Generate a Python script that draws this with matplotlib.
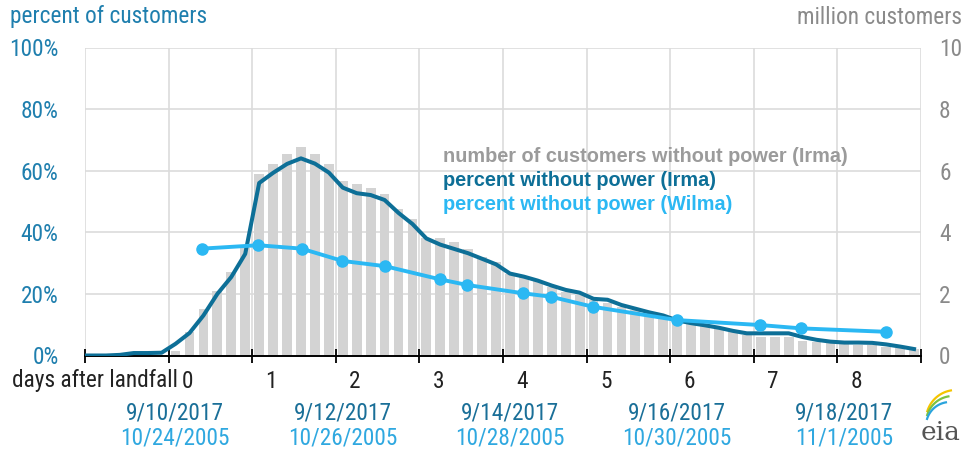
import numpy as np
import matplotlib
matplotlib.use("Agg")
import matplotlib.pyplot as plt
from matplotlib import font_manager as fm
from matplotlib.transforms import blended_transform_factory
from matplotlib.lines import Line2D

# ---------------- data ----------------
# x axis: days (grid line every day); bars are 4-hour periods
bar_times = list(np.arange(1, 10, 1 / 6) + 1 / 12)
irma_customers_mn = [
    0.15, 0.75, 1.50, 2.10, 2.70, 3.50,
    5.88, 6.21, 6.54, 6.76, 6.54, 6.22,
    5.68, 5.56, 5.45, 5.23, 4.76, 4.42,
    3.83, 3.80, 3.69, 3.46, 3.20, 3.03,
    2.65, 2.56, 2.42, 2.23, 2.05, 1.96,
    1.80, 1.69, 1.56, 1.48, 1.37, 1.26,
    1.10, 1.03, 0.95, 0.88, 0.77, 0.67,
    0.61, 0.61, 0.59, 0.48, 0.45, 0.40,
    0.37, 0.34, 0.34, 0.29, 0.23, 0.20,
]

irma_line_times = [0.0] + list(np.arange(0, 10, 1 / 6) + 1 / 12)
irma_pct = [
    0.0,
    0.0, 0.0, 0.2, 0.8, 0.8, 0.9,
    3.8, 7.3, 13.0, 20.0, 25.5, 33.0,
    56.0, 59.3, 62.2, 64.0, 62.3, 59.4,
    54.5, 52.7, 52.1, 50.5, 46.3, 42.7,
    38.0, 36.0, 34.6, 33.2, 31.4, 29.6,
    26.6, 25.6, 24.3, 22.7, 21.3, 20.4,
    18.4, 18.1, 16.4, 15.2, 14.0, 13.0,
    11.4, 10.5, 9.8, 9.0, 8.0, 7.2,
    7.2, 7.2, 7.2, 6.0, 5.1, 4.5,
    4.2, 4.2, 4.1, 3.6, 2.9, 2.1,
]

wilma_times = [1.40, 2.07, 2.59, 3.08, 3.59, 4.25, 4.57, 5.24, 5.57, 6.08, 7.08, 8.07, 8.57, 9.58]
wilma_pct = [34.7, 35.8, 34.7, 30.7, 29.0, 24.7, 22.9, 20.2, 19.1, 15.8, 11.5, 9.9, 8.8, 7.7]

landfall_offset = 1.23
day_labels = ["0", "1", "2", "3", "4", "5", "6", "7", "8"]
date_pos = [1.08, 3.08, 5.08, 7.08, 9.08]
dates_2017 = ["9/10/2017", "9/12/2017", "9/14/2017", "9/16/2017", "9/18/2017"]
dates_2005 = ["10/24/2005", "10/26/2005", "10/28/2005", "10/30/2005", "11/1/2005"]

pct_ticks = [0, 20, 40, 60, 80, 100]
mn_ticks = [0, 2, 4, 6, 8, 10]

# ---------------- style ----------------
def pick(fams):
    for f in fams:
        try:
            fm.findfont(fm.FontProperties(family=f), fallback_to_default=False)
            return f
        except Exception:
            pass
    return "DejaVu Sans"

NARROW = pick(["Liberation Sans Narrow", "Arial Narrow", "Roboto Condensed"])
scale = 1.0
if NARROW == "DejaVu Sans":
    NARROW = pick(["Liberation Sans", "Arial"])
    scale = 0.82
BOLD = pick(["Liberation Sans", "Arial"])
FS = 16.8 * scale

C_DARK = "#0d6f97"
C_LIGHT = "#2bb8f3"
C_BAR = "#d3d3d3"
C_AXIS_L = "#1f7fae"
C_GRAY = "#8a8a8a"
C_GRID = "#dcdcdc"

W, H = 968, 455
fig = plt.figure(figsize=(W / 100, H / 100), dpi=100)
ax_left, ax_right, ax_bot, ax_top = 85 / W, 921 / W, 1 - 355.5 / H, 1 - 47.5 / H
ax2 = fig.add_axes([ax_left, ax_bot, ax_right - ax_left, ax_top - ax_bot])  # back: bars (million)
ax = fig.add_axes(ax2.get_position(), sharex=ax2)                         # front: lines (%)
ax.patch.set_visible(False)

# bars
ax2.bar(bar_times, irma_customers_mn, width=0.118, color=C_BAR, zorder=2)
ax2.set_ylim(0, 10)
ax2.set_yticks(mn_ticks)
ax2.yaxis.tick_right()
ax2.tick_params(axis="y", length=0, pad=13, labelsize=FS, labelcolor=C_GRAY)
for lab in ax2.get_yticklabels():
    lab.set_fontfamily(NARROW)
    lab.set_horizontalalignment("left")
ax2.grid(True, axis="both", color=C_GRID, lw=1.2, zorder=0)
ax2.set_axisbelow(True)
ax2.tick_params(axis="x", length=0, labelbottom=False)
for s in ax2.spines.values():
    s.set_visible(False)

# lines
ax.plot(irma_line_times, irma_pct, color=C_DARK, lw=2.9, solid_joinstyle="round", zorder=3)
ax.plot(wilma_times, wilma_pct, color=C_LIGHT, lw=2.8, marker="o", ms=8, zorder=4)
ax.set_ylim(0, 100)
ax.set_xlim(0, 10)
ax.set_yticks(pct_ticks)
ax.set_yticklabels([f"{v}%" for v in pct_ticks])
ax.tick_params(axis="y", length=0, pad=19, labelsize=FS, labelcolor=C_AXIS_L)
for lab in ax.get_yticklabels():
    lab.set_fontfamily(NARROW)
ax.set_xticks(range(0, 11))
ax.tick_params(axis="x", direction="inout", length=10, width=1.3, color="black", labelbottom=False)
for k, s in ax.spines.items():
    s.set_visible(k == "bottom")
ax.spines["bottom"].set_color("black")
ax.spines["bottom"].set_linewidth(1.4)
ax.grid(False)

# axis titles
fig.text(10 / W, 1 - 17 / H, "percent of customers", ha="left", va="center",
         fontsize=FS, color=C_AXIS_L, family=NARROW)
fig.text(962 / W, 1 - 17 / H, "million customers", ha="right", va="center",
         fontsize=FS, color=C_GRAY, family=NARROW)

# legend text
leg = [("number of customers without power (Irma)", "#9b9b9b"),
       ("percent without power (Irma)", C_DARK),
       ("percent without power (Wilma)", C_LIGHT)]
for i, (t, c) in enumerate(leg):
    fig.text(443 / W, 1 - (157 + 24 * i) / H, t, ha="left", va="center",
             fontsize=14.3, fontweight="bold", color=c, family=BOLD)

# day labels and dates
tr = blended_transform_factory(ax.transData, fig.transFigure)
fig.text(12 / W, 1 - 381 / H, "days after landfall", ha="left", va="center",
         fontsize=FS, color="#222222", family=NARROW)
for i, d in enumerate(day_labels):
    ax.text(landfall_offset + int(d), 1 - 381 / H, d, transform=tr, ha="center", va="center",
            fontsize=FS, color="#222222", family=NARROW, clip_on=False)
for x, d1, d2 in zip(date_pos, dates_2017, dates_2005):
    ax.text(x, 1 - 413 / H, d1, transform=tr, ha="center", va="center",
            fontsize=FS, color="#1a6f98", family=NARROW, clip_on=False)
    ax.text(x, 1 - 438 / H, d2, transform=tr, ha="center", va="center",
            fontsize=FS, color="#2fa8e0", family=NARROW, clip_on=False)

# eia logo
fig.text(941 / W, 1 - 432 / H, "eia", ha="center", va="center", fontsize=19,
         color="#555555", family="DejaVu Serif")
th = np.linspace(0.3, 1.4, 20)
for r, col, dy in [(30, "#f4c400", 0), (27, "#7cc242", 3), (24, "#2aa4dc", 6)]:
    xs = (926 + r * (1 - np.cos(th))) / W
    ys = 1 - (420 + dy - r * np.sin(th)) / H
    fig.add_artist(Line2D(xs, ys, color=col, lw=1.6, transform=fig.transFigure))

fig.savefig("out.png", dpi=100)
